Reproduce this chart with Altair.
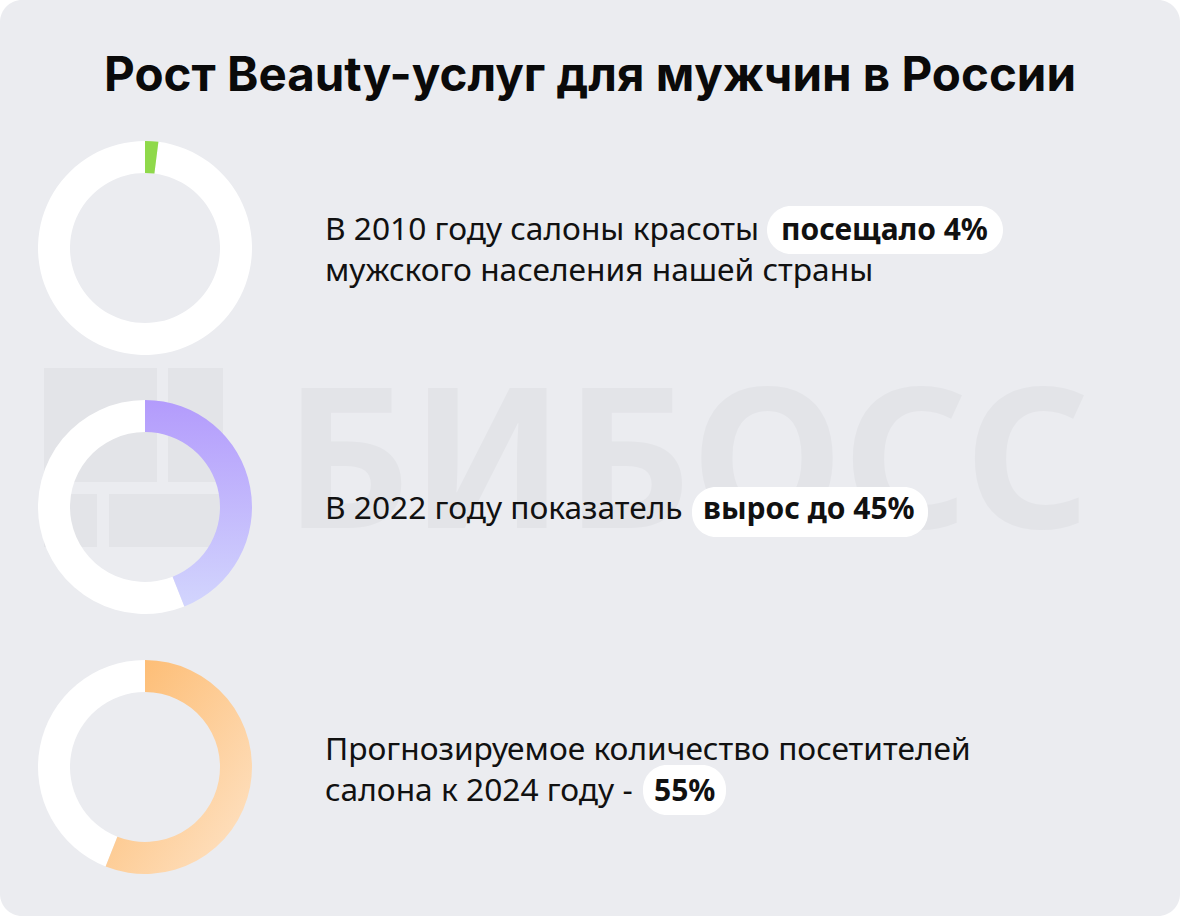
import altair as alt
import pandas as pd

# ---------------- data ----------------
title_text = "Рост Beauty-услуг для мужчин в России"
donut_ids = ["2010", "2022", "2024"]
donut_values = [2, 44, 56]          # share drawn by each ring (%)
line_texts = [
    "В 2010 году салоны красоты",
    "мужского населения нашей страны",
    "В 2022 году показатель",
    "Прогнозируемое количество посетителей",
    "салона к 2024 году -",
]
pill_texts = ["посещало 4%", "вырос до 45%", "55%"]
watermark_text = "БИБОСС"

# ---------------- layout ----------------
W, H = 1180, 916
donut_cx = [145, 145, 145]
donut_cy = [248, 507, 767]
line_x = [325, 325, 325, 325, 325]
line_y = [240, 281, 519, 760, 801]
pill_x = [767, 692, 643]
pill_x2 = [1003, 928, 726]
pill_y = [206, 487, 765]
pill_y2 = [254, 537, 815]
pill_tx = [781, 703, 654]
pill_ty = [240, 519, 801]
logo_x = [44, 168, 44, 109]
logo_x2 = [157, 223, 97, 223]
logo_y = [368, 368, 494, 494]
logo_y2 = [482, 482, 547, 547]

xs = alt.Scale(domain=[0, W], nice=False, zero=False)
ys = alt.Scale(domain=[0, H], nice=False, zero=False, reverse=True)
ts = alt.Scale(domain=[0, 100], range=[0, 6.283185307])


def X(f):
    return alt.X(f, type="quantitative", scale=xs, axis=None)


def Y(f):
    return alt.Y(f, type="quantitative", scale=ys, axis=None)


card = alt.Chart(pd.DataFrame({"a": [0]})).mark_rect(
    cornerRadius=22, fill="#EBECF0"
).encode(x=alt.value(0), x2=alt.value(W), y=alt.value(0), y2=alt.value(H))

logo_df = pd.DataFrame({"x": logo_x, "x2": logo_x2, "y": logo_y, "y2": logo_y2})
logo = alt.Chart(logo_df).mark_rect(fill="#E3E4E8").encode(
    x=X("x"), x2="x2", y=Y("y"), y2="y2"
)

wm = alt.Chart(pd.DataFrame({"t": [watermark_text], "x": [284], "y": [528]})).mark_text(
    align="left", baseline="alphabetic", font="Noto Sans", fontWeight=700,
    fontSize=195, color="#E3E4E8"
).encode(x=X("x"), y=Y("y"), text="t:N")

donut_df = pd.DataFrame({
    "id": donut_ids, "cx": donut_cx, "cy": donut_cy,
    "v": donut_values, "zero": [0, 0, 0], "full": [100, 100, 100],
})


def arc_layer(idx, fill, rest=False):
    d = donut_df.iloc[[idx]]
    base = alt.Chart(d).mark_arc(outerRadius=107, innerRadius=75, fill=fill)
    if rest:
        return base.encode(
            x=X("cx"), y=Y("cy"),
            theta=alt.Theta("v:Q", scale=ts, stack=None), theta2="full:Q",
        )
    return base.encode(
        x=X("cx"), y=Y("cy"),
        theta=alt.Theta("zero:Q", scale=ts, stack=None), theta2="v:Q",
    )


green = "#8FD94A"
purple = {"gradient": "linear", "x1": 0, "y1": 0, "x2": 0, "y2": 1,
          "stops": [{"offset": 0, "color": "#B39BFC"}, {"offset": 1, "color": "#D2D5FD"}]}
orange = {"gradient": "linear", "x1": 0, "y1": 0, "x2": 1, "y2": 1,
          "stops": [{"offset": 0, "color": "#FDB86A"}, {"offset": 1, "color": "#FEE4C8"}]}

arcs = [
    arc_layer(0, "white", rest=True), arc_layer(0, green),
    arc_layer(1, "white", rest=True), arc_layer(1, purple),
    arc_layer(2, "white", rest=True), arc_layer(2, orange),
]

pill_df = pd.DataFrame({"x": pill_x, "x2": pill_x2, "y": pill_y, "y2": pill_y2,
                        "tx": pill_tx, "ty": pill_ty, "t": pill_texts})
pills = alt.Chart(pill_df).mark_rect(cornerRadius=24, fill="white").encode(
    x=X("x"), x2="x2", y=Y("y"), y2="y2"
)
pill_txt = alt.Chart(pill_df).mark_text(
    align="left", baseline="alphabetic", font="Noto Sans", fontWeight=700,
    fontSize=30, color="#111111"
).encode(x=X("tx"), y=Y("ty"), text="t:N")

line_df = pd.DataFrame({"x": line_x, "y": line_y, "t": line_texts})
lines = alt.Chart(line_df).mark_text(
    align="left", baseline="alphabetic", font="Noto Sans", fontSize=31.7, color="#111111"
).encode(x=X("x"), y=Y("y"), text="t:N")

title = alt.Chart(pd.DataFrame({"t": [title_text], "x": [W / 2], "y": [91]})).mark_text(
    align="center", baseline="alphabetic", font="Inter", fontWeight=700,
    fontSize=47.5, color="#0A0A0A"
).encode(x=X("x"), y=Y("y"), text="t:N")

chart = alt.layer(
    card, logo, wm, *arcs, pills, pill_txt, lines, title
).properties(
    width=W, height=H, autosize=alt.AutoSizeParams(type="none"), padding=0,
    background="white"
).configure_view(strokeWidth=0)

chart.save("out.html", embed_options={"renderer": "svg", "actions": False})
